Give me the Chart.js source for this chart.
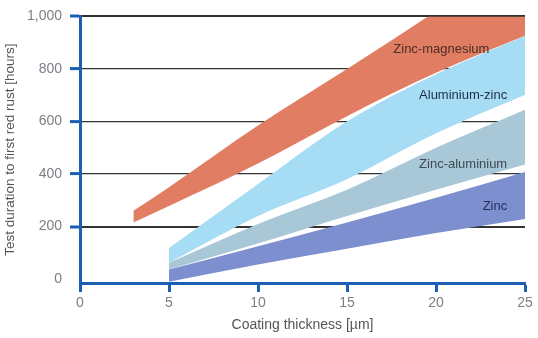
<!DOCTYPE html>
<html>
<head>
<meta charset="utf-8">
<script src="https://cdn.jsdelivr.net/npm/chart.js@4.4.1/dist/chart.umd.min.js"></script>
<style>
  html, body { margin: 0; padding: 0; background: #ffffff; }
</style>
</head>
<body>
<canvas id="chart" width="538" height="338"></canvas>
<script>
// Coating thickness (µm) where each band is read
const thickness = [5, 10, 15, 20, 25];
const zincMgThickness = [3, 5, 10, 15, 20, 25];

// Upper / lower edge of each band (hours to first red rust)
const zincMgUpper = [260, 350, 585, 800, 1020, 1250];
const zincMgLower = [215, 278, 440, 620, 785, 926];
const alZincUpper = [118, 362, 600, 780, 925];
const alZincLower = [62, 240, 380, 555, 702];
const zincAlUpper = [62, 210, 340, 500, 645];
const zincAlLower = [36, 135, 240, 340, 436];
const zincUpper = [36, 125, 215, 310, 408];
const zincLower = [-10, 55, 115, 175, 229];

const xTicks = [0, 5, 10, 15, 20, 25];
const yTicks = [0, 200, 400, 600, 800, 1000];

const bandNames = ['Zinc-magnesium', 'Aluminium-zinc', 'Zinc-aluminium', 'Zinc'];

const COLORS = {
    zincMg: '#e07d62',
    alZinc: '#a6dcf4',
    zincAl: '#a8c8d8',
    zinc: '#7d8fcf',
    axis: '#1a5fb4',
    grid: '#333333',
    tickText: '#7b7f86',
    title: '#555555',
};
const FONT = "'Liberation Sans', Arial, sans-serif";

// where the band names sit (data coords, right aligned)
const labelSpots = [
    { x: 23.0, y: 876, color: '#4a2e28' },
    { x: 24.0, y: 699, color: '#1e2d4a' },
    { x: 24.0, y: 438, color: '#3d4a52' },
    { x: 24.0, y: 277, color: '#28305a' },
];

function pts(xs, ys) {
    return xs.map((x, i) => ({ x: x, y: ys[i] }));
}

function band(name, xs, upper, lower, color) {
    const common = { borderWidth: 0, pointRadius: 0, cubicInterpolationMode: 'monotone' };
    return [{
        ...common,
        label: name,
        data: pts(xs, upper),
        backgroundColor: color,
        fill: '+1',
    }, {
        ...common,
        label: name + ' (low)',
        data: pts(xs, lower),
        fill: false,
    }];
}

const bandLabels = {
    id: 'bandLabels',
    afterDraw(chart) {
        const { ctx, scales: { x, y } } = chart;
        ctx.save();
        ctx.font = '13px ' + FONT;
        ctx.textAlign = 'right';
        ctx.textBaseline = 'middle';
        bandNames.forEach((name, i) => {
            const s = labelSpots[i];
            ctx.fillStyle = s.color;
            ctx.fillText(name, x.getPixelForValue(s.x), y.getPixelForValue(s.y));
        });
        ctx.restore();
    }
};

const isMajor = v => v === 1000 || v === 200;

new Chart(document.getElementById('chart'), {
    type: 'line',
    data: {
        datasets: [
            ...band(bandNames[0], zincMgThickness, zincMgUpper, zincMgLower, COLORS.zincMg),
            ...band(bandNames[1], thickness, alZincUpper, alZincLower, COLORS.alZinc),
            ...band(bandNames[2], thickness, zincAlUpper, zincAlLower, COLORS.zincAl),
            ...band(bandNames[3], thickness, zincUpper, zincLower, COLORS.zinc),
        ]
    },
    options: {
        responsive: false,
        animation: false,
        layout: { padding: { top: 12, right: 13, left: 0, bottom: 0 } },
        plugins: {
            legend: { display: false },
            tooltip: { enabled: false },
        },
        scales: {
            x: {
                type: 'linear',
                min: 0,
                max: 25,
                z: 1,
                afterBuildTicks: s => { s.ticks = xTicks.map(v => ({ value: v })); },
                afterFit: s => { s.height = 55; },
                border: { color: COLORS.axis, width: 3 },
                grid: { drawOnChartArea: false, tickColor: COLORS.axis, tickLength: 9, tickWidth: 3 },
                ticks: { padding: 3, color: COLORS.tickText, maxRotation: 0, font: { family: FONT, size: 14 } },
                title: {
                    display: true,
                    text: 'Coating thickness [µm]',
                    color: COLORS.title,
                    font: { family: FONT, size: 14 },
                    padding: { top: 0, bottom: 4 },
                },
            },
            y: {
                type: 'linear',
                min: -15,
                max: 1000,
                z: 1,
                afterBuildTicks: s => { s.ticks = yTicks.map(v => ({ value: v })); },
                afterFit: s => { s.width = 80; },
                border: { color: COLORS.axis, width: 3 },
                grid: {
                    color: c => (c.tick && c.tick.value === 0) ? 'rgba(0,0,0,0)' : COLORS.grid,
                    lineWidth: c => (c.tick && isMajor(c.tick.value)) ? 2 : 1.2,
                    tickColor: c => (c.tick && c.tick.value === 0) ? 'rgba(0,0,0,0)' : COLORS.axis,
                    tickLength: 10,
                    tickWidth: 3,
                },
                ticks: {
                    padding: 8,
                    color: COLORS.tickText,
                    font: { family: FONT, size: 14 },
                    callback: v => v.toLocaleString('en-US'),
                },
                title: {
                    display: true,
                    text: 'Test duration to first red rust [hours]',
                    color: COLORS.title,
                    font: { family: FONT, size: 13.5 },
                    padding: { top: 2, bottom: 0 },
                },
            },
        },
    },
    plugins: [bandLabels],
});
</script>
</body>
</html>
